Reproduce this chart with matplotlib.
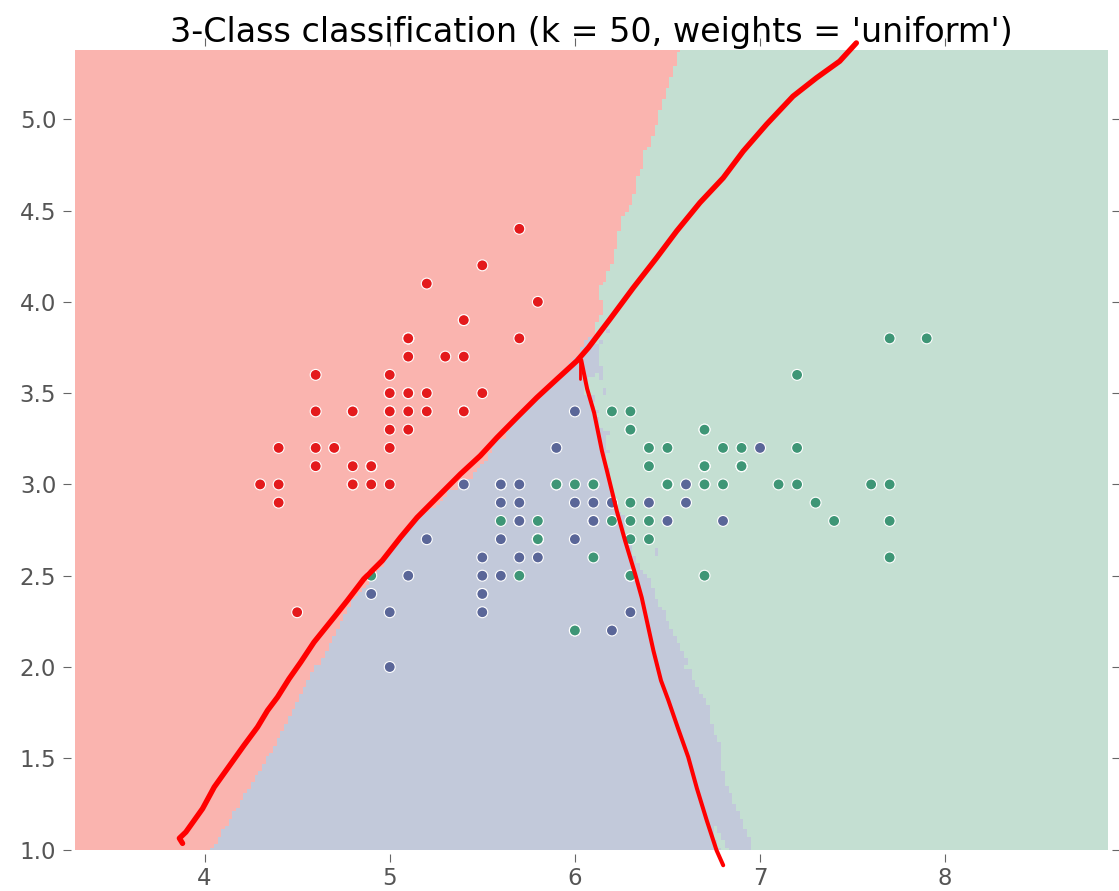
import matplotlib
matplotlib.use("Agg")
import matplotlib.pyplot as plt
import numpy as np
from matplotlib.colors import ListedColormap

# iris: sepal length / sepal width, class 0 = setosa, 1 = versicolor, 2 = virginica
sepal_length = [
    5.1, 4.9, 4.7, 4.6, 5.0, 5.4, 4.6, 5.0, 4.4, 4.9, 5.4, 4.8, 4.8, 4.3, 5.8, 5.7, 5.4, 5.1, 5.7, 5.1,
    5.4, 5.1, 4.6, 5.1, 4.8, 5.0, 5.0, 5.2, 5.2, 4.7, 4.8, 5.4, 5.2, 5.5, 4.9, 5.0, 5.5, 4.9, 4.4, 5.1,
    5.0, 4.5, 4.4, 5.0, 5.1, 4.8, 5.1, 4.6, 5.3, 5.0,
    7.0, 6.4, 6.9, 5.5, 6.5, 5.7, 6.3, 4.9, 6.6, 5.2, 5.0, 5.9, 6.0, 6.1, 5.6, 6.7, 5.6, 5.8, 6.2, 5.6,
    5.9, 6.1, 6.3, 6.1, 6.4, 6.6, 6.8, 6.7, 6.0, 5.7, 5.5, 5.5, 5.8, 6.0, 5.4, 6.0, 6.7, 6.3, 5.6, 5.5,
    5.5, 6.1, 5.8, 5.0, 5.6, 5.7, 5.7, 6.2, 5.1, 5.7,
    6.3, 5.8, 7.1, 6.3, 6.5, 7.6, 4.9, 7.3, 6.7, 7.2, 6.5, 6.4, 6.8, 5.7, 5.8, 6.4, 6.5, 7.7, 7.7, 6.0,
    6.9, 5.6, 7.7, 6.3, 6.7, 7.2, 6.2, 6.1, 6.4, 7.2, 7.4, 7.9, 6.4, 6.3, 6.1, 7.7, 6.3, 6.4, 6.0, 6.9,
    6.7, 6.9, 5.8, 6.8, 6.7, 6.7, 6.3, 6.5, 6.2, 5.9,
]
sepal_width = [
    3.5, 3.0, 3.2, 3.1, 3.6, 3.9, 3.4, 3.4, 2.9, 3.1, 3.7, 3.4, 3.0, 3.0, 4.0, 4.4, 3.9, 3.5, 3.8, 3.8,
    3.4, 3.7, 3.6, 3.3, 3.4, 3.0, 3.4, 3.5, 3.4, 3.2, 3.1, 3.4, 4.1, 4.2, 3.1, 3.2, 3.5, 3.1, 3.0, 3.4,
    3.5, 2.3, 3.2, 3.5, 3.8, 3.0, 3.8, 3.2, 3.7, 3.3,
    3.2, 3.2, 3.1, 2.3, 2.8, 2.8, 3.3, 2.4, 2.9, 2.7, 2.0, 3.0, 2.2, 2.9, 2.9, 3.1, 3.0, 2.7, 2.2, 2.5,
    3.2, 2.8, 2.5, 2.8, 2.9, 3.0, 2.8, 3.0, 2.9, 2.6, 2.4, 2.4, 2.7, 2.7, 3.0, 3.4, 3.1, 2.3, 3.0, 2.5,
    2.6, 3.0, 2.6, 2.3, 2.7, 3.0, 2.9, 2.9, 2.5, 2.8,
    3.3, 2.7, 3.0, 2.9, 3.0, 3.0, 2.5, 2.9, 2.5, 3.6, 3.2, 2.7, 3.0, 2.5, 2.8, 3.2, 3.0, 3.8, 2.6, 2.2,
    3.2, 2.8, 2.8, 2.7, 3.3, 3.2, 2.8, 3.0, 2.8, 3.0, 2.8, 3.8, 2.8, 2.8, 2.6, 3.0, 3.4, 3.1, 3.0, 3.1,
    3.1, 3.1, 2.7, 3.2, 3.3, 3.0, 2.5, 3.0, 3.4, 3.0,
]
species = [0] * 50 + [1] * 50 + [2] * 50

n_neighbors = 50
h = 0.02

# hand drawn red strokes (data coords)
stroke1_x = [3.881, 3.864, 3.899, 3.944, 3.989, 4.052, 4.142, 4.213, 4.286, 4.340, 4.394, 4.456, 4.519,
             4.591, 4.699, 4.771, 4.860, 4.960, 5.058, 5.148, 5.256, 5.382, 5.489, 5.580, 5.687, 5.795,
             5.903, 6.011, 6.073, 6.190, 6.316, 6.442, 6.550, 6.675, 6.801, 6.909, 7.035, 7.178, 7.305,
             7.430, 7.520]
stroke1_y = [1.034, 1.062, 1.096, 1.160, 1.224, 1.342, 1.470, 1.571, 1.671, 1.762, 1.835, 1.935, 2.026,
             2.136, 2.272, 2.364, 2.482, 2.583, 2.710, 2.819, 2.929, 3.057, 3.157, 3.257, 3.367, 3.476,
             3.577, 3.677, 3.749, 3.906, 4.078, 4.242, 4.388, 4.543, 4.679, 4.825, 4.972, 5.126, 5.227,
             5.318, 5.418]
stroke2_x = [6.034, 6.066, 6.104, 6.146, 6.173, 6.226, 6.271, 6.325, 6.361, 6.424, 6.465, 6.505, 6.557,
             6.612, 6.659, 6.712, 6.765, 6.801]
stroke2_y = [3.682, 3.524, 3.392, 3.184, 3.075, 2.856, 2.692, 2.511, 2.380, 2.090, 1.926, 1.817, 1.664,
             1.507, 1.335, 1.160, 0.996, 0.914]
stub_x = [6.029, 6.029]
stub_y = [3.688, 3.578]

X = np.c_[sepal_length, sepal_width]
y = np.array(species)

cmap_light = ListedColormap(['#FAB4AF', '#C2C9DA', '#C4DFD2'])
point_colors = np.array(['#E41A1C', '#5A6698', '#3E9676'])

x_min, x_max = X[:, 0].min() - 1, X[:, 0].max() + 1
y_min, y_max = X[:, 1].min() - 1, X[:, 1].max() + 1
xx, yy = np.meshgrid(np.arange(x_min, x_max, h), np.arange(y_min, y_max, h))
grid = np.c_[xx.ravel(), yy.ravel()]

# plain k-nearest-neighbour vote, uniform weights
Z = np.empty(len(grid), dtype=int)
for i in range(0, len(grid), 5000):
    g = grid[i:i + 5000]
    d = ((g[:, None, :] - X[None, :, :]) ** 2).sum(-1)
    idx = np.argsort(d, axis=1, kind='stable')[:, :n_neighbors]
    votes = y[idx]
    counts = np.stack([(votes == c).sum(1) for c in range(3)], axis=1)
    Z[i:i + 5000] = counts.argmax(1)
Z = Z.reshape(xx.shape)

fig = plt.figure(figsize=(11.19, 8.91), dpi=100)
ax = fig.add_axes([0.067, 0.0465, 0.9233, 0.8975])
ax.pcolormesh(xx, yy, Z, cmap=cmap_light, shading='auto', vmin=0, vmax=2)
ax.scatter(X[:, 0], X[:, 1], c=point_colors[y], s=62, edgecolors='white', linewidths=0.8, zorder=3)

ax.plot(stroke1_x, stroke1_y, color='#FF0000', lw=3.9, solid_capstyle='round', solid_joinstyle='round',
        clip_on=False, zorder=5)
ax.plot(stroke2_x, stroke2_y, color='#FF0000', lw=2.9, solid_capstyle='round', solid_joinstyle='round',
        clip_on=False, zorder=5)
ax.plot(stub_x, stub_y, color='#FF0000', lw=2.0, solid_capstyle='round', clip_on=False, zorder=5)

ax.set_xlim(xx.min(), xx.max())
ax.set_ylim(yy.min(), yy.max())
ax.set_title("3-Class classification (k = %i, weights = '%s')" % (n_neighbors, 'uniform'),
             fontsize=24, pad=6)

for s in ax.spines.values():
    s.set_position(('outward', 3))
    s.set_color('none')
ax.tick_params(direction='out', length=5.5, width=0.8, color='#666666', labelcolor='#555555',
               labelsize=16.5, pad=5, top=True, right=True)
ax.tick_params(axis='x', pad=4)
ax.yaxis.set_major_formatter(matplotlib.ticker.FormatStrFormatter('%.1f'))

fig.savefig('out.png', dpi=100)
